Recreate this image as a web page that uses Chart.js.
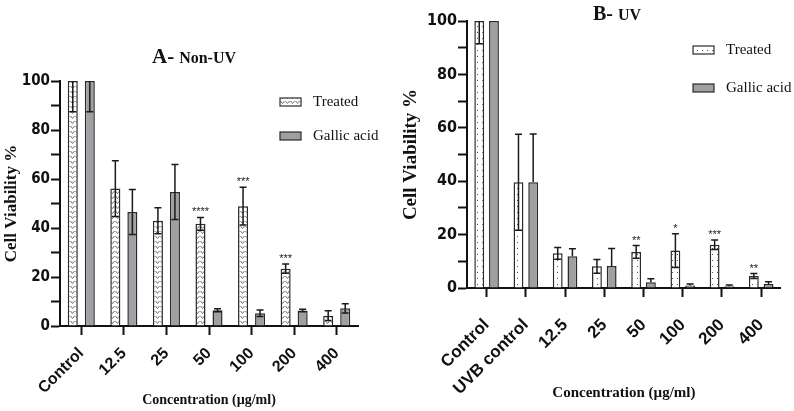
<!DOCTYPE html>
<html>
<head>
<meta charset="utf-8">
<script src="https://cdn.jsdelivr.net/npm/chart.js@4.4.0/dist/chart.umd.min.js"></script>
<style>
  html, body { margin: 0; padding: 0; background: #fff; }
  #wrap { position: relative; width: 794px; height: 411px; }
  canvas { position: absolute; top: 0; }
  #chartA { left: 0; }
  #chartB { left: 400px; }
</style>
</head>
<body>
<div id="wrap">
  <canvas id="chartA" width="400" height="411"></canvas>
  <canvas id="chartB" width="394" height="411"></canvas>
</div>
<script>
// ---- data ----
const seriesNames = ['Treated', 'Gallic acid'];
const yTicks = [0, 20, 40, 60, 80, 100];

// A - Non-UV
const labelsA = ['Control', '12.5', '25', '50', '100', '200', '400'];
const treatedA = [100, 56.1, 43.0, 41.7, 48.9, 23.4, 4.2];
const treatedSdA = [12.5, 11.4, 5.3, 2.6, 7.7, 1.9, 2.0];
const gallicA = [100, 46.5, 54.7, 6.4, 5.2, 6.3, 7.2];
const gallicSdA = [12.5, 9.2, 11.2, 0.6, 1.3, 0.5, 1.9];
const starsA = ['', '', '', '****', '***', '***', ''];

// B - UV
const labelsB = ['Control', 'UVB control', '12.5', '25', '50', '100', '200', '400'];
const treatedB = [100, 39.6, 13.0, 8.1, 13.5, 14.0, 16.2, 4.5];
const treatedSdB = [8.5, 18.0, 2.2, 2.6, 2.4, 6.3, 1.8, 0.9];
const gallicB = [100, 39.6, 11.9, 8.2, 2.2, 0.9, 0.7, 1.5];
const gallicSdB = [0, 18.1, 2.8, 6.6, 1.3, 0.6, 0.4, 0.8];
const starsB = ['', '', '', '', '**', '*', '***', '**'];

const GALLIC_FILL = '#a0a0a4';
const EDGE = '#2a2a2a';

// ---- fill patterns ----
function zigzagPattern() {
    const c = document.createElement('canvas');
    c.width = 5; c.height = 5;
    const g = c.getContext('2d');
    g.fillStyle = '#fff';
    g.fillRect(0, 0, 5, 5);
    g.strokeStyle = '#6e6e6e';
    g.lineWidth = 1;
    g.beginPath();
    g.moveTo(0.5, 1); g.lineTo(2.5, 3.5); g.lineTo(4.5, 1);
    g.stroke();
    return g.createPattern(c, 'repeat');
}

function dotPattern() {
    const c = document.createElement('canvas');
    c.width = 5; c.height = 6;
    const g = c.getContext('2d');
    g.fillStyle = '#fff';
    g.fillRect(0, 0, 5, 6);
    g.fillStyle = '#555';
    g.fillRect(2, 2, 1, 1);
    return g.createPattern(c, 'repeat');
}

// ---- error bars + significance stars ----
const errorBars = {
    id: 'errorBars',
    afterDatasetsDraw(chart, args, opts) {
        const { ctx, chartArea } = chart;
        const y = chart.scales.y;
        ctx.save();
        ctx.beginPath();
        ctx.rect(chartArea.left - 6, chartArea.top, chartArea.width + 12, chartArea.height);
        ctx.clip();
        ctx.strokeStyle = '#1a1a1a';
        ctx.lineWidth = 1.5;
        chart.data.datasets.forEach((ds, di) => {
            const meta = chart.getDatasetMeta(di);
            meta.data.forEach((bar, i) => {
                const v = ds.data[i], e = ds.sd[i];
                if (!e) return;
                const hi = y.getPixelForValue(v + e);
                const lo = ds.lowerErr ? y.getPixelForValue(v - e) : bar.y;
                const cap = 3.5;
                ctx.beginPath();
                ctx.moveTo(bar.x, hi); ctx.lineTo(bar.x, lo);
                ctx.moveTo(bar.x - cap, hi); ctx.lineTo(bar.x + cap, hi);
                if (ds.lowerErr) {
                    ctx.moveTo(bar.x - cap, lo); ctx.lineTo(bar.x + cap, lo);
                }
                ctx.stroke();
            });
        });
        ctx.restore();

        // stars over the treated bars
        const ds = chart.data.datasets[0];
        const meta = chart.getDatasetMeta(0);
        ctx.save();
        ctx.fillStyle = '#222';
        ctx.font = '11px "Liberation Sans", Arial, sans-serif';
        ctx.textAlign = 'center';
        ctx.textBaseline = 'middle';
        opts.stars.forEach((s, i) => {
            if (!s) return;
            const top = y.getPixelForValue(ds.data[i] + ds.sd[i]);
            ctx.fillText(s, meta.data[i].x, top - 5);
        });
        ctx.restore();
    }
};

// ---- title and in-plot legend ----
const decor = {
    id: 'decor',
    afterDraw(chart, args, o) {
        const ctx = chart.ctx;
        ctx.save();
        ctx.fillStyle = '#111';
        ctx.textBaseline = 'alphabetic';
        ctx.textAlign = 'left';
        let x = o.titleX;
        o.title.forEach(([txt, size], k) => {
            ctx.font = 'bold ' + size + 'px "Liberation Serif", "Times New Roman", serif';
            ctx.fillText(txt, x, o.titleY);
            x += ctx.measureText(txt).width + (k === 0 ? 5 : 0);
        });

        const fills = chart.data.datasets.map(d => d.backgroundColor);
        ctx.font = '15px "Liberation Serif", "Times New Roman", serif';
        ctx.textBaseline = 'middle';
        seriesNames.forEach((name, i) => {
            const cy = o.legendY[i];
            ctx.fillStyle = fills[i];
            ctx.fillRect(o.legendX, cy - 4, 21, 8);
            ctx.strokeStyle = EDGE;
            ctx.lineWidth = 1.2;
            ctx.strokeRect(o.legendX, cy - 4, 21, 8);
            ctx.fillStyle = '#111';
            ctx.fillText(name, o.legendX + 33, cy);
        });
        ctx.restore();
    }
};

function makeChart(id, cfg) {
    const ctx = document.getElementById(id).getContext('2d');
    return new Chart(ctx, {
        type: 'bar',
        data: {
            labels: cfg.labels,
            datasets: [{
                label: seriesNames[0],
                data: cfg.treated,
                sd: cfg.treatedSd,
                lowerErr: true,
                backgroundColor: cfg.pattern,
                borderColor: EDGE,
                borderWidth: 1.5,
                barPercentage: cfg.barPct,
                categoryPercentage: cfg.catPct
            }, {
                label: seriesNames[1],
                data: cfg.gallic,
                sd: cfg.gallicSd,
                lowerErr: cfg.gallicLower,
                backgroundColor: GALLIC_FILL,
                borderColor: EDGE,
                borderWidth: 1.5,
                barPercentage: cfg.barPct,
                categoryPercentage: cfg.catPct
            }]
        },
        options: {
            responsive: false,
            animation: false,
            layout: { padding: cfg.padding },
            plugins: {
                legend: { display: false },
                tooltip: { enabled: false },
                errorBars: { stars: cfg.stars },
                decor: cfg.decor
            },
            scales: {
                x: {
                    afterFit: s => { s.height = cfg.xHeight; },
                    grid: {
                        offset: false,
                        drawOnChartArea: false,
                        tickLength: 9,
                        tickWidth: 2,
                        tickColor: '#111'
                    },
                    border: { color: '#111', width: 2 },
                    ticks: {
                        autoSkip: false,
                        minRotation: 45,
                        maxRotation: 45,
                        padding: cfg.xTickPad,
                        color: '#111',
                        font: { family: '"Liberation Sans", Arial, sans-serif', weight: 'bold', size: cfg.xFont }
                    },
                    title: {
                        display: true,
                        text: 'Concentration (µg/ml)',
                        color: '#111',
                        padding: { top: 0, bottom: 0 },
                        font: { family: '"Liberation Serif", "Times New Roman", serif', weight: 'bold', size: cfg.xTitleFont }
                    }
                },
                y: {
                    min: 0,
                    max: 100,
                    afterFit: s => { s.width = cfg.yWidth; },
                    afterBuildTicks: s => {
                        const t = [];
                        for (let v = 0; v <= 100; v += 10) t.push({ value: v });
                        s.ticks = t;
                    },
                    grid: {
                        drawOnChartArea: false,
                        tickLength: 9,
                        tickWidth: 2,
                        tickColor: '#111'
                    },
                    border: { color: '#111', width: 2 },
                    ticks: {
                        padding: 1,
                        color: '#111',
                        callback: v => yTicks.includes(v) ? v : '',
                        font: { family: '"DejaVu Sans Condensed", "Liberation Sans Narrow", sans-serif', weight: 'bold', size: cfg.yFont }
                    },
                    title: {
                        display: true,
                        text: 'Cell Viability %',
                        color: '#111',
                        padding: { top: 0, bottom: 0 },
                        font: { family: '"Liberation Serif", "Times New Roman", serif', weight: 'bold', size: cfg.yTitleFont }
                    }
                }
            }
        },
        plugins: [errorBars, decor]
    });
}

makeChart('chartA', {
    labels: labelsA,
    treated: treatedA, treatedSd: treatedSdA,
    gallic: gallicA, gallicSd: gallicSdA, gallicLower: true,
    stars: starsA,
    pattern: zigzagPattern(),
    barPct: 0.59, catPct: 0.8,
    padding: { left: 1, right: 42, top: 81, bottom: 2 },
    xHeight: 83, yWidth: 59,
    xTickPad: 9, xFont: 16, yFont: 15, yTitleFont: 17, xTitleFont: 14,
    decor: { title: [['A-', 21], ['Non-UV', 16]], titleX: 152, titleY: 63, legendX: 280, legendY: [102, 136] }
});

makeChart('chartB', {
    labels: labelsB,
    treated: treatedB, treatedSd: treatedSdB,
    gallic: gallicB, gallicSd: gallicSdB, gallicLower: false,
    stars: starsB,
    pattern: dotPattern(),
    barPct: 0.67, catPct: 0.75,
    padding: { left: 0, right: 6, top: 21, bottom: 9 },
    xHeight: 114, yWidth: 67,
    xTickPad: 18, xFont: 17, yFont: 16, yTitleFont: 19, xTitleFont: 15,
    decor: { title: [['B-', 20], ['UV', 16]], titleX: 193, titleY: 20, legendX: 293, legendY: [50, 88] }
});
</script>
</body>
</html>
